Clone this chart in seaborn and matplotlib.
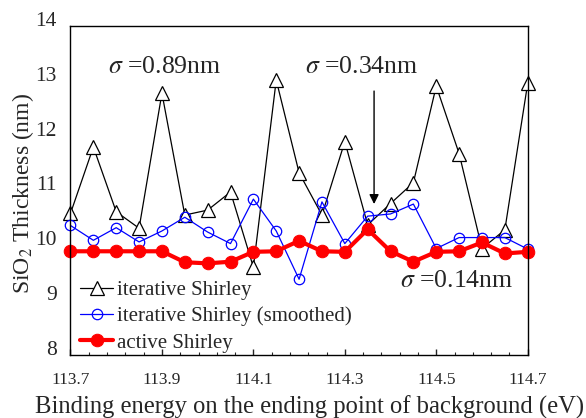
import matplotlib
matplotlib.use("Agg")
import matplotlib.pyplot as plt
import matplotlib.transforms as mtransforms
import numpy as np
import pandas as pd
import seaborn as sns

# binding energy at the ending point of the background (eV)
energy = [113.70, 113.75, 113.80, 113.85, 113.90, 113.95, 114.00, 114.05, 114.10, 114.15, 114.20,
          114.25, 114.30, 114.35, 114.40, 114.45, 114.50, 114.55, 114.60, 114.65, 114.70]

# SiO2 thickness (nm) for each background method
iterative = [10.58, 11.79, 10.61, 10.31, 12.77, 10.55, 10.64, 10.97, 9.60, 13.01, 11.32,
             10.55, 11.89, 10.37, 10.76, 11.14, 12.90, 11.67, 9.94, 10.28, 12.95]
smoothed = [10.36, 10.09, 10.32, 10.06, 10.26, 10.51, 10.24, 10.03, 10.84, 10.26, 9.38,
            10.79, 10.03, 10.53, 10.57, 10.75, 9.94, 10.14, 10.14, 10.14, 9.93]
active = [9.89, 9.89, 9.89, 9.89, 9.89, 9.69, 9.67, 9.70, 9.88, 9.89, 10.08,
          9.89, 9.88, 10.29, 9.89, 9.70, 9.88, 9.89, 10.05, 9.85, 9.88]

xtick_labels = ["113.7", "113.9", "114.1", "114.3", "114.5", "114.7"]
ytick_labels = ["8", "9", "10", "11", "12", "13", "14"]

df = pd.DataFrame({"energy": energy, "iterative": iterative,
                   "smoothed": smoothed, "active": active})

sns.set_style("ticks")
plt.rcParams["font.family"] = ["Liberation Serif", "DejaVu Serif"]
plt.rcParams["mathtext.fontset"] = "stix"

fig = plt.figure(figsize=(5.86, 4.18), dpi=100)
ax = fig.add_axes([0.1203, 0.1507, 0.7802, 0.7878])

sns.lineplot(data=df, x="energy", y="iterative", ax=ax, color="black", linewidth=0.9,
             marker="^", markersize=9.5, markerfacecolor="white", markeredgecolor="black",
             markeredgewidth=0.9, label="iterative Shirley", clip_on=False)
sns.lineplot(data=df, x="energy", y="smoothed", ax=ax, color="#0000ff", linewidth=0.9,
             marker="o", markersize=7.5, markerfacecolor="none", markeredgecolor="#0000ff",
             markeredgewidth=0.9, label="iterative Shirley (smoothed)", clip_on=False)
sns.lineplot(data=df, x="energy", y="active", ax=ax, color="#ff0000", linewidth=3,
             marker="o", markersize=9, markerfacecolor="#ff0000", markeredgecolor="#ff0000",
             label="active Shirley", clip_on=False)

ax.set_xlim(113.7, 114.7)
ax.set_ylim(8, 14)
ax.set_xticks([113.7, 113.9, 114.1, 114.3, 114.5, 114.7])
ax.set_xticklabels(xtick_labels, fontsize=12.5)
ax.set_xticks(np.linspace(113.7, 114.7, 26), minor=True)
ax.set_yticks([8, 9, 10, 11, 12, 13, 14])
ax.set_yticklabels(ytick_labels, fontsize=15.5)
ax.tick_params(axis="x", which="major", direction="in", length=4, width=1, pad=12)
ax.tick_params(axis="x", which="minor", direction="in", length=2.5, width=0.8)
ax.tick_params(axis="y", length=0, pad=10)
# y labels sit a bit above their gridline in the original
offset = mtransforms.ScaledTranslation(0, 5 / 72, fig.dpi_scale_trans)
for lab in ax.get_yticklabels():
    lab.set_transform(lab.get_transform() + offset)

for sp in ax.spines.values():
    sp.set_visible(True)
    sp.set_color("black")
    sp.set_linewidth(1)

ax.set_xlabel("Binding energy on the ending point of background (eV)", fontsize=17.7)
ax.set_ylabel(r"SiO$_2$ Thickness (nm)", fontsize=17)
ax.xaxis.set_label_coords(0.522, -0.122)
ax.yaxis.set_label_coords(-0.076, 0.49)

ax.text(113.782, 13.24, r"$\sigma$ =0.89nm", fontsize=18.5, va="center", ha="left")
ax.text(114.213, 13.24, r"$\sigma$ =0.34nm", fontsize=18.5, va="center", ha="left")
ax.text(114.42, 9.35, r"$\sigma$ =0.14nm", fontsize=18.5, va="center", ha="left")
ax.annotate("", xy=(114.364, 10.70), xytext=(114.364, 12.86),
            arrowprops=dict(arrowstyle="-|>", color="black", lw=1, mutation_scale=14))

ax.legend(loc="lower left", bbox_to_anchor=(0.008, -0.012), frameon=False, fontsize=15,
          handlelength=1.55, handletextpad=0.2, labelspacing=0.32, borderaxespad=0.2,
          borderpad=0.1)

fig.savefig("out.png", dpi=100)
